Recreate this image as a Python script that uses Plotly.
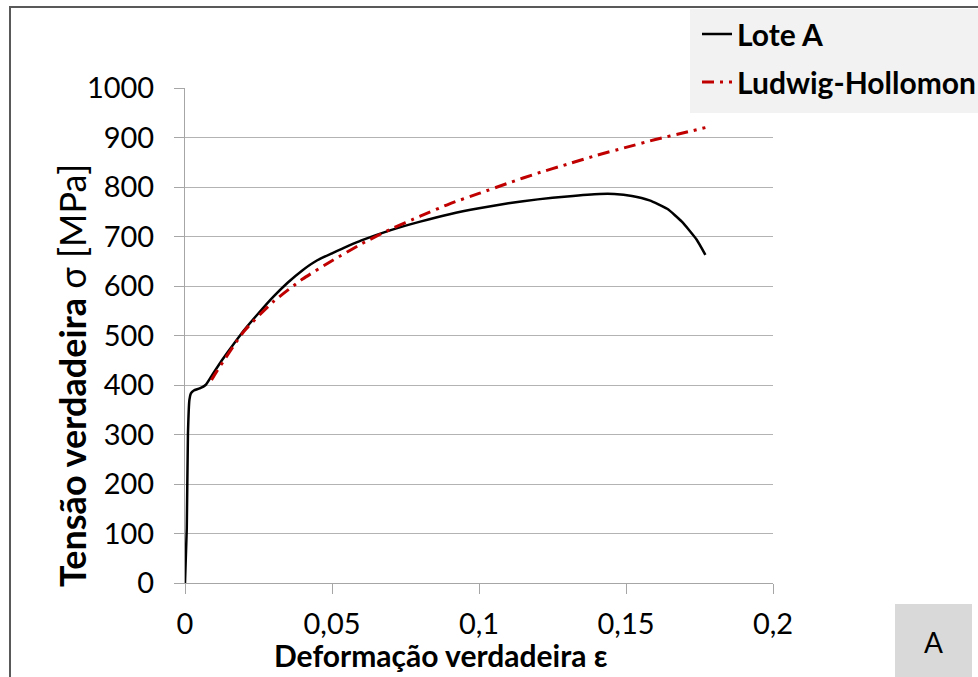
import plotly.graph_objects as go

# ---- data ----
lote_x = [0, 0.0006, 0.001, 0.0015, 0.002, 0.003, 0.005, 0.007, 0.009, 0.012, 0.015,
          0.02, 0.025, 0.03, 0.035, 0.04, 0.045, 0.05, 0.06, 0.07, 0.08, 0.09, 0.1,
          0.11, 0.12, 0.13, 0.141, 0.146, 0.152, 0.158, 0.164, 0.169, 0.174, 0.177]
lote_y = [0, 110, 300, 370, 383, 389, 393, 400, 418, 445, 470,
          510, 545, 578, 607, 632, 652, 666, 692, 713, 730, 745, 757,
          767, 775, 781, 786, 786, 782, 773, 756, 730, 694, 663]

lh_x = [0.009, 0.01, 0.02, 0.03, 0.04, 0.05, 0.06, 0.07, 0.08, 0.09, 0.1, 0.11,
        0.12, 0.13, 0.14, 0.15, 0.16, 0.17, 0.177]
lh_y = [410, 420, 508, 568, 614, 651, 685, 715, 741, 766, 787, 808,
        828, 846, 864, 880, 896, 910, 920]

x_tickvals = [0, 0.05, 0.1, 0.15, 0.2]
x_ticktext = ["0", "0,05", "0,1", "0,15", "0,2"]
y_tickvals = [0, 100, 200, 300, 400, 500, 600, 700, 800, 900, 1000]
y_ticktext = [str(v) for v in y_tickvals]

series_names = ["Lote A", "Ludwig-Hollomon"]

# ---- layout geometry (pixels) ----
W, H = 978, 677
L, R, T, B = 185, 205, 88, 94
PW, PH = W - L - R, H - T - B

def px(xp):
    return (xp - L) / PW

def py(yp):
    return (H - B - yp) / PH

FONT = "Lato, 'Open Sans', sans-serif"
AX = "#a6a6a6"

fig = go.Figure()
fig.add_trace(go.Scatter(x=lote_x, y=lote_y, mode="lines", name=series_names[0],
                         line=dict(color="black", width=2.5, shape="spline", smoothing=0.5),
                         legendgroup="a"))
fig.add_trace(go.Scatter(x=lh_x, y=lh_y, mode="lines", name=series_names[1],
                         line=dict(color="#c00000", width=3, dash="12px,6px,3px,6px",
                                   shape="spline", smoothing=0.6),
                         legendgroup="b"))

shapes = [
    # legend background
    dict(type="rect", xref="paper", yref="paper", x0=px(690), x1=px(980), y0=py(113), y1=py(9),
         fillcolor="#f2f2f2", line=dict(width=0), layer="below"),
    # "A" box
    dict(type="rect", xref="paper", yref="paper", x0=px(895), x1=px(972), y0=py(680), y1=py(604),
         fillcolor="#d9d9d9", line=dict(width=0), layer="below"),
    # outer frame
    dict(type="rect", xref="paper", yref="paper", x0=px(10), x1=px(990), y0=py(690), y1=py(7),
         fillcolor="rgba(0,0,0,0)", line=dict(color="#595959", width=2), layer="below"),
]

annotations = [
    dict(text="<b>Tensão verdadeira</b> σ [MPa]", xref="paper", yref="paper",
         x=px(72), y=py(376), textangle=-90, showarrow=False,
         font=dict(family=FONT, size=36, color="black"), xanchor="center", yanchor="middle"),
    dict(text="<b>Deformação verdadeira ε</b>", xref="paper", yref="paper",
         x=px(441), y=py(655), showarrow=False,
         font=dict(family=FONT, size=30, color="black"), xanchor="center", yanchor="middle"),
    dict(text="A", xref="paper", yref="paper", x=px(933), y=py(642), showarrow=False,
         font=dict(family=FONT, size=28, color="black"), xanchor="center", yanchor="middle"),
]

fig.update_layout(
    width=W, height=H,
    margin=dict(l=L, r=R, t=T, b=B, autoexpand=False),
    paper_bgcolor="white", plot_bgcolor="white",
    font=dict(family=FONT, color="black"),
    showlegend=True,
    legend=dict(x=px(697), y=py(8), xref="paper", yref="paper", xanchor="left", yanchor="top",
                bgcolor="rgba(0,0,0,0)", font=dict(family=FONT, size=30, color="black", weight="bold"),
                tracegroupgap=6, itemwidth=30),
    shapes=shapes,
    annotations=annotations,
    xaxis=dict(range=[0, 0.2], tickvals=x_tickvals, ticktext=x_ticktext,
               showgrid=False, zeroline=False, showline=True, linecolor=AX, linewidth=1,
               ticks="outside", ticklen=10, tickcolor=AX, tickwidth=1, ticklabelstandoff=5,
               tickfont=dict(family=FONT, size=29, color="black")),
    yaxis=dict(range=[0, 1000], tickvals=y_tickvals, ticktext=y_ticktext,
               showgrid=True, gridcolor="#b3b3b3", gridwidth=1, zeroline=False,
               showline=True, linecolor=AX, linewidth=1,
               ticks="outside", ticklen=10, tickcolor=AX, tickwidth=1, ticklabelstandoff=14,
               tickfont=dict(family=FONT, size=29, color="black")),
)

fig.write_html("out.html")
